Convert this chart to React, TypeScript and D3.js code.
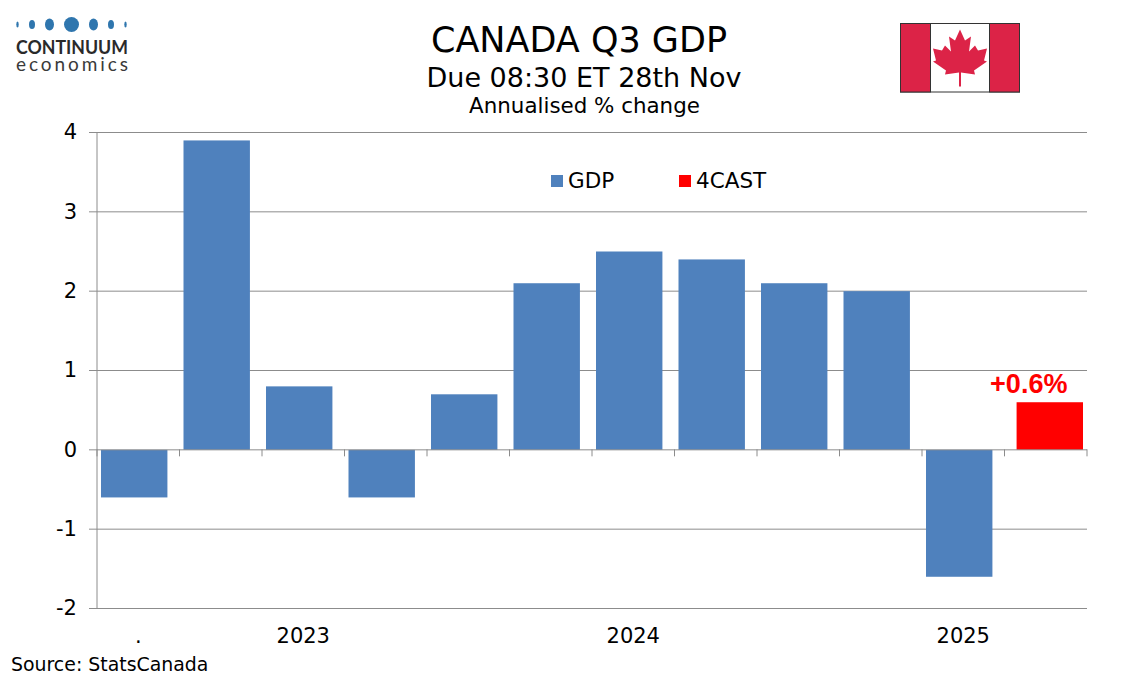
import React, { useEffect, useRef } from 'react';
import * as d3 from 'd3';

const WIDTH = 1134;
const HEIGHT = 680;
const MARGIN = { top: 132, right: 47, bottom: 72, left: 97 };
const FONT = '"DejaVu Sans", Verdana, sans-serif';
const BLUE = '#4f81bd';
const RED = '#ff0000';
const GRID = '#8c8c8c';
const FLAG_RED = '#dc2347';

const QUARTERS = ['Q3 22', 'Q4 22', 'Q1 23', 'Q2 23', 'Q3 23', 'Q4 23', 'Q1 24', 'Q2 24', 'Q3 24', 'Q4 24', 'Q2 25', 'Q3 25'];
const GDP = [-0.6, 3.9, 0.8, -0.6, 0.7, 2.1, 2.5, 2.4, 2.1, 2.0, -1.6, null];
const FORECAST = [null, null, null, null, null, null, null, null, null, null, null, 0.6];
const Y_TICKS = [-2, -1, 0, 1, 2, 3, 4];
const YEAR_LABELS: [string, string][] = [['Q3 22', '.'], ['Q1 23', '2023'], ['Q1 24', '2024'], ['Q2 25', '2025']];
const LOGO_DOTS = [
  { cx: 17.5, rx: 1.2, ry: 3 },
  { cx: 32, rx: 3, ry: 4.5 },
  { cx: 49.5, rx: 4.5, ry: 6 },
  { cx: 71.5, rx: 7.5, ry: 7.5 },
  { cx: 93.5, rx: 4.5, ry: 6 },
  { cx: 111, rx: 3, ry: 4.5 },
  { cx: 125.5, rx: 1.2, ry: 3 },
];
// maple leaf outline, centred on 0,0, roughly 54 wide
const LEAF = 'M0,-24 L5,-13 L11,-17 L9,-2 L15,-8 L18,-3 L27,-5 L24,7 L27,8 L14,17 L15,21 L1,19 L1,33 L-1,33 L-1,19 L-15,21 L-14,17 L-27,8 L-24,7 L-27,-5 L-18,-3 L-15,-8 L-9,-2 L-11,-17 L-5,-13 Z';

const App: React.FC = () => {
  const svgRef = useRef<SVGSVGElement>(null);

  useEffect(() => {
    const svg = d3.select(svgRef.current);
    svg.selectAll('*').remove();
    svg.attr('width', WIDTH).attr('height', HEIGHT).style('background', '#fff');

    const innerW = WIDTH - MARGIN.left - MARGIN.right;
    const innerH = HEIGHT - MARGIN.top - MARGIN.bottom;
    const g = svg.append('g').attr('transform', `translate(${MARGIN.left},${MARGIN.top})`);

    const x = d3.scaleBand<string>().domain(QUARTERS).range([0, innerW]);
    const y = d3.scaleLinear().domain([-2, 4]).range([innerH, 0]);

    // Grid + y axis
    g.append('g')
      .call(d3.axisLeft(y).tickValues(Y_TICKS).tickSize(8).tickPadding(12).tickFormat(d => `${d}`))
      .call(sel => {
        sel.select('.domain').attr('stroke', GRID).attr('d', `M0,0V${innerH}`);
        sel.selectAll('.tick line').attr('stroke', GRID);
        sel.selectAll('text').attr('fill', '#000').attr('font-size', 21).attr('font-family', FONT);
      });
    g.append('g').selectAll('line').data(Y_TICKS.filter(t => t !== 0)).join('line')
      .attr('x1', 0).attr('x2', innerW)
      .attr('y1', d => y(d) + 0.5).attr('y2', d => y(d) + 0.5)
      .attr('stroke', GRID).attr('stroke-width', 1);

    // Bars: two clustered series that overlap, so each sits off-centre in its band
    const barW = x.bandwidth() * 0.805;
    const drawBars = (values: (number | null)[], offset: number, color: string) => {
      g.append('g').selectAll('rect').data(values).join('rect')
        .attr('display', d => (d === null ? 'none' : null))
        .attr('x', (_, i) => (x(QUARTERS[i]) as number) + offset)
        .attr('width', barW)
        .attr('y', d => y(Math.max(d ?? 0, 0)) + 0.5)
        .attr('height', d => Math.abs(y(d ?? 0) - y(0)))
        .attr('fill', color);
    };
    drawBars(GDP, 4, BLUE);
    drawBars(FORECAST, x.bandwidth() - barW - 4, RED);

    // Zero line with ticks at the band edges
    const step = x.step();
    g.append('line').attr('x1', 0).attr('x2', innerW)
      .attr('y1', y(0) + 0.5).attr('y2', y(0) + 0.5).attr('stroke', GRID);
    g.append('g').selectAll('line').data(d3.range(QUARTERS.length + 1)).join('line')
      .attr('x1', d => d * step).attr('x2', d => d * step)
      .attr('y1', y(0)).attr('y2', y(0) + 7)
      .attr('stroke', GRID);

    // Year labels
    g.append('g').selectAll('text').data(YEAR_LABELS).join('text')
      .attr('x', d => (x(d[0]) as number) + x.bandwidth() / 2)
      .attr('y', innerH + 35)
      .attr('text-anchor', 'middle')
      .attr('font-size', 21).attr('font-family', FONT).attr('fill', '#000')
      .text(d => d[1]);

    // Forecast label
    g.append('text')
      .attr('x', (x(QUARTERS[11]) as number) + x.bandwidth() / 2 - 17)
      .attr('y', y(0.6) - 9)
      .attr('text-anchor', 'middle')
      .attr('font-size', 27).attr('font-weight', 'bold').attr('font-family', '"Liberation Sans", Arial, sans-serif')
      .attr('fill', RED)
      .text('+0.6%');

    // Titles
    const titles: [string, number, number, number][] = [
      ['CANADA Q3 GDP', 579, 52, 35],
      ['Due 08:30 ET 28th Nov', 584, 87, 27],
      ['Annualised % change', 584.5, 113, 21.4],
    ];
    svg.append('g').selectAll('text').data(titles).join('text')
      .attr('x', d => d[1]).attr('y', d => d[2])
      .attr('text-anchor', 'middle')
      .attr('font-family', FONT).attr('font-size', d => d[3]).attr('fill', '#000')
      .text(d => d[0]);

    // Legend
    const legend: [string, string, number][] = [['GDP', BLUE, 551], ['4CAST', RED, 679]];
    const lg = svg.append('g');
    legend.forEach(([label, color, lx]) => {
      lg.append('rect').attr('x', lx).attr('y', 175).attr('width', 12).attr('height', 12).attr('fill', color);
      lg.append('text').attr('x', lx + 17).attr('y', 188)
        .attr('font-family', FONT).attr('font-size', 21.5).attr('fill', '#000').text(label);
    });

    // Source
    svg.append('text').attr('x', 11).attr('y', 671)
      .attr('font-family', FONT).attr('font-size', 18.9).attr('fill', '#000').text('Source: StatsCanada');

    // Logo
    const logo = svg.append('g');
    logo.selectAll('ellipse').data(LOGO_DOTS).join('ellipse')
      .attr('cx', d => d.cx).attr('cy', 24.5).attr('rx', d => d.rx).attr('ry', d => d.ry).attr('fill', '#2f76ae');
    logo.append('text').attr('x', 16).attr('y', 54)
      .attr('font-family', 'Lato, "Open Sans", sans-serif').attr('font-weight', 'bold').attr('font-size', 19)
      .attr('textLength', 112).attr('lengthAdjust', 'spacingAndGlyphs').attr('fill', '#2a2a2a').text('CONTINUUM');
    logo.append('text').attr('x', 16).attr('y', 71)
      .attr('font-family', 'Lato, "Open Sans", sans-serif').attr('font-size', 19)
      .attr('textLength', 112).attr('fill', '#3a3a3a').text('economics');

    // Flag
    const flag = svg.append('g').attr('transform', 'translate(900,23)');
    flag.append('rect').attr('x', 0.5).attr('y', 0.5).attr('width', 119).attr('height', 68.5).attr('fill', '#fff').attr('stroke', '#333');
    flag.append('rect').attr('x', 0.5).attr('y', 0.5).attr('width', 30).attr('height', 68.5).attr('fill', FLAG_RED).attr('stroke', '#333');
    flag.append('rect').attr('x', 89.5).attr('y', 0.5).attr('width', 30).attr('height', 68.5).attr('fill', FLAG_RED).attr('stroke', '#333');
    flag.append('path').attr('d', LEAF).attr('transform', 'translate(60,30.5)').attr('fill', FLAG_RED);
  }, []);

  return <svg ref={svgRef} style={{ position: 'absolute', left: 0, top: 0, display: 'block' }} />;
};

export default App;
